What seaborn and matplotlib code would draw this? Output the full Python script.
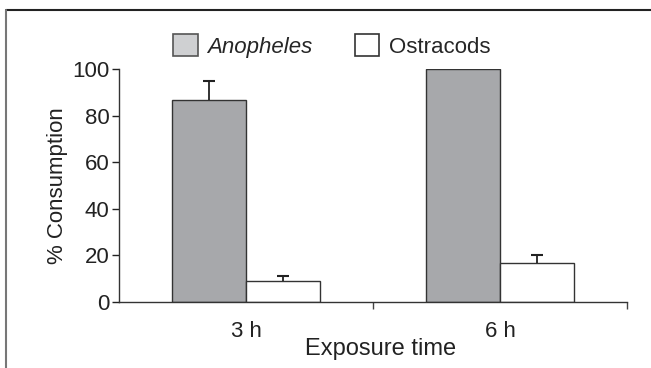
import pandas as pd
import numpy as np
import matplotlib.pyplot as plt
from matplotlib.lines import Line2D
from matplotlib.patches import Patch
import seaborn as sns

# Data
times = ["3 h", "6 h"]
species = ["Anopheles", "Ostracods"]
anopheles = [86.5, 100]
ostracods = [9, 16.7]
anopheles_err = [8.5, 0]
ostracods_err = [2, 3.3]

df = pd.DataFrame({
    "time": times * 2,
    "prey": [species[0]] * 2 + [species[1]] * 2,
    "consumption": anopheles + ostracods,
    "err": anopheles_err + ostracods_err,
})

sns.set_style("white")
plt.rcParams['font.family'] = ['Liberation Sans', 'DejaVu Sans']

fig = plt.figure(figsize=(6.51, 3.68), dpi=100)
ax = fig.add_axes([119 / 651, 1 - 302 / 368, (627 - 119) / 651, (302 - 69) / 368])

gray = "#a7a8ab"
sns.barplot(data=df, x="time", y="consumption", hue="prey", ax=ax,
            palette=[gray, "white"], width=0.58, edgecolor="#333333",
            linewidth=1.0, errorbar=None, legend=False, saturation=1)

# upper-only error bars
for patch_group, errs in zip(ax.containers, [anopheles_err, ostracods_err]):
    for bar, e in zip(patch_group, errs):
        if e <= 0:
            continue
        xc = bar.get_x() + bar.get_width() / 2
        top = bar.get_height()
        _, caps, _ = ax.errorbar(xc, top, yerr=[[0], [e]], fmt="none",
                                 ecolor="#222222", elinewidth=1.3,
                                 capsize=4, capthick=1.5)
        caps[0].set_visible(False)  # drop the cap sitting on the bar top

ax.set_xlim(-0.5, 1.5)
ax.set_ylim(0, 100)
ax.set_yticks([0, 20, 40, 60, 80, 100])
ax.tick_params(axis="y", direction="out", length=5, width=1, labelsize=16,
               left=True, pad=2, colors="#222222")
ax.set_xticks([0, 1])
ax.set_xticklabels(times)
ax.tick_params(axis="x", length=0, labelsize=16, pad=14, colors="#222222")
ax.set_xticks([0.5, 1.5], minor=True)
ax.tick_params(axis="x", which="minor", length=5, width=1, bottom=True,
               direction="out", color="#444444")

for s in ["top", "right"]:
    ax.spines[s].set_visible(False)
for s in ["left", "bottom"]:
    ax.spines[s].set_color("#333333")
    ax.spines[s].set_linewidth(1.0)

ax.set_ylabel("% Consumption", fontsize=16, color="#222222", labelpad=3)
ax.set_xlabel("Exposure time", fontsize=17, color="#222222", labelpad=-3)
ax.xaxis.label.set_x(0.514)

handles = [Patch(facecolor="#cfd0d2", edgecolor="#555555", linewidth=1.2),
           Patch(facecolor="white", edgecolor="#333333", linewidth=1.2)]
leg = fig.legend(handles, species, loc="center", bbox_to_anchor=(0.51, 0.875),
                 ncol=2, frameon=False, fontsize=16, handlelength=1.1,
                 handleheight=1.1, handletextpad=0.45, columnspacing=1.9)
leg.get_texts()[0].set_fontstyle("italic")

# figure frame (top and left only)
fig.add_artist(Line2D([6 / 651, 1], [1 - 9.5 / 368] * 2, color="#222222", lw=1.5))
fig.add_artist(Line2D([6 / 651] * 2, [0, 1 - 9.5 / 368], color="#777777", lw=1.5))

fig.savefig("out.png", dpi=100)
